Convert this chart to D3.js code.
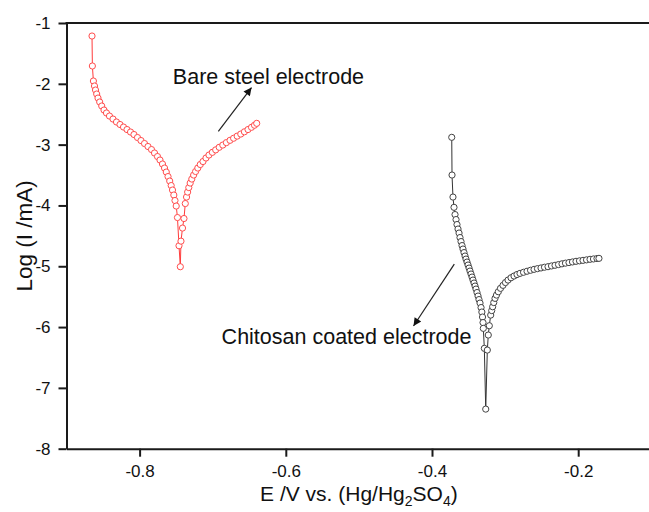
<!DOCTYPE html>
<html><head><meta charset="utf-8">
<script src="https://cdn.jsdelivr.net/npm/d3@7"></script>
<style>body{margin:0;background:#fff}svg{display:block}</style>
</head><body><svg id="c" width="649" height="512"></svg>
<script>
// ---- data ----
const bareE = [-0.8651,-0.8646,-0.8632,-0.8617,-0.8603,-0.8587,-0.8569,-0.8546,-0.8518,-0.8487,-0.8453,-0.8412,-0.8364,-0.8316,-0.8268,-0.8220,-0.8172,-0.8124,-0.8077,-0.8029,-0.7981,-0.7933,-0.7885,-0.7837,-0.7796,-0.7755,-0.7721,-0.7687,-0.7659,-0.7635,-0.7611,-0.7588,-0.7568,-0.7550,-0.7532,-0.7516,-0.7499,-0.7482,-0.7461,-0.7443,
  -0.7434,-0.7413,-0.7393,-0.7375,-0.7358,-0.7343,-0.7327,-0.7308,-0.7286,-0.7261,-0.7234,-0.7204,-0.7170,-0.7133,-0.7092,-0.7051,-0.7005,-0.6959,-0.6911,-0.6862,-0.6813,-0.6763,-0.6714,-0.6665,-0.6616,-0.6566,-0.6517,-0.6469,-0.6428,-0.6398];
const bareLog = [-1.214,-1.707,-1.954,-2.036,-2.102,-2.168,-2.234,-2.299,-2.365,-2.431,-2.480,-2.530,-2.579,-2.628,-2.669,-2.711,-2.752,-2.793,-2.834,-2.883,-2.933,-2.982,-3.031,-3.081,-3.138,-3.196,-3.253,-3.319,-3.385,-3.451,-3.525,-3.599,-3.673,-3.747,-3.829,-3.919,-4.010,-4.199,-4.663,-5.008,
  -4.587,-4.372,-4.215,-3.969,-3.862,-3.780,-3.706,-3.632,-3.566,-3.500,-3.442,-3.385,-3.327,-3.278,-3.220,-3.171,-3.127,-3.086,-3.044,-3.007,-2.967,-2.929,-2.895,-2.860,-2.826,-2.789,-2.752,-2.715,-2.681,-2.650];
const chitosanE = [-0.3730,-0.3726,-0.3713,-0.3699,-0.3685,-0.3671,-0.3658,-0.3644,-0.3630,-0.3617,-0.3603,-0.3589,-0.3576,-0.3562,-0.3548,-0.3535,-0.3521,-0.3507,-0.3493,-0.3480,-0.3466,-0.3452,-0.3439,-0.3425,-0.3411,-0.3398,-0.3384,-0.3370,-0.3357,-0.3343,-0.3329,-0.3318,-0.3309,-0.3302,-0.3298,-0.3284,-0.3265,
  -0.3243,-0.3230,-0.3216,-0.3197,-0.3183,-0.3170,-0.3155,-0.3138,-0.3118,-0.3093,-0.3063,-0.3029,-0.2995,-0.2960,-0.2919,-0.2878,-0.2837,-0.2796,-0.2748,-0.2700,-0.2652,-0.2604,-0.2557,-0.2509,-0.2461,-0.2413,-0.2365,-0.2317,-0.2269,-0.2222,-0.2174,-0.2126,-0.2078,-0.2030,-0.1982,-0.1934,-0.1886,-0.1838,-0.1791,-0.1743,-0.1716];
const chitosanLog = [-2.880,-3.500,-3.862,-4.031,-4.150,-4.232,-4.314,-4.388,-4.454,-4.528,-4.594,-4.660,-4.717,-4.775,-4.832,-4.882,-4.931,-4.980,-5.030,-5.079,-5.128,-5.178,-5.227,-5.276,-5.326,-5.375,-5.432,-5.490,-5.548,-5.605,-5.679,-5.753,-5.835,-5.926,-6.021,-6.350,-7.349,
  -6.378,-6.131,-5.978,-5.803,-5.729,-5.666,-5.597,-5.528,-5.474,-5.419,-5.363,-5.314,-5.268,-5.227,-5.189,-5.161,-5.136,-5.117,-5.099,-5.082,-5.066,-5.051,-5.039,-5.028,-5.016,-5.007,-4.995,-4.984,-4.972,-4.960,-4.949,-4.939,-4.929,-4.919,-4.911,-4.903,-4.895,-4.886,-4.880,-4.873,-4.870];
const xTicks = [-0.8, -0.6, -0.4, -0.2];
const yTicks = [-1, -2, -3, -4, -5, -6, -7, -8];
const labels = ["Bare steel electrode", "Chitosan coated electrode"];
const labelE = [-0.7545, -0.6878];
const labelLog = [-2.003, -6.271];
const arrowFromE = [-0.6923, -0.3695], arrowFromLog = [-2.781, -4.964];
const arrowToE = [-0.6469, -0.4253], arrowToLog = [-2.061, -5.983];

// ---- chart ----
const svg = d3.select("#c");
const x = d3.scaleLinear().domain([-0.9, -0.1]).range([66.5, 651.3]);
const y = d3.scaleLinear().domain([-8, -1]).range([448.7, 23]);
const font = "'Liberation Sans', Arial, sans-serif";

const xAxis = svg.append("g").attr("transform", `translate(0,${y(-8)})`)
  .call(d3.axisBottom(x).tickValues(xTicks).tickSize(8).tickSizeOuter(0).tickPadding(8).tickFormat(d => String(d)));
const yAxis = svg.append("g").attr("transform", `translate(${x(-0.9)},0)`)
  .call(d3.axisLeft(y).tickValues(yTicks).tickSize(8).tickSizeOuter(0).tickPadding(8).tickFormat(d => String(d)));
[xAxis, yAxis].forEach(g => {
  g.select(".domain").attr("stroke", "#1a1a1a").attr("stroke-width", 2);
  g.selectAll(".tick line").attr("stroke", "#1a1a1a").attr("stroke-width", 2);
  g.selectAll(".tick text").attr("fill", "#111").style("font-family", font).style("font-size", "17px");
});
svg.append("line").attr("x1", x(-0.9) - 1).attr("x2", x(-0.1)).attr("y1", y(-1)).attr("y2", y(-1))
  .attr("stroke", "#1a1a1a").attr("stroke-width", 2);

// axis titles
svg.append("text").attr("transform", `translate(31.5,${(y(-1) + y(-8)) / 2}) rotate(-90)`)
  .attr("text-anchor", "middle").style("font-family", font).style("font-size", "22.5px").attr("fill", "#111")
  .text("Log (I /mA)");
const xt = svg.append("text").attr("x", (x(-0.9) + x(-0.1)) / 2).attr("y", 501)
  .attr("text-anchor", "middle").style("font-family", font).style("font-size", "21px").attr("fill", "#111");
xt.append("tspan").text("E /V vs. (Hg/Hg");
xt.append("tspan").attr("dy", 5).style("font-size", "14px").text("2");
xt.append("tspan").attr("dy", -5).text("SO");
xt.append("tspan").attr("dy", 5).style("font-size", "14px").text("4");
xt.append("tspan").attr("dy", -5).text(")");

// series
const series = [
  {e: bareE, l: bareLog, line: "#ff3b3b", mark: "#ff4d4d"},
  {e: chitosanE, l: chitosanLog, line: "#333", mark: "#444"}
];
const lineGen = d3.line().x(d => x(d[0])).y(d => y(d[1]));
series.forEach(s => {
  const pts = s.e.map((v, i) => [v, s.l[i]]);
  svg.append("path").datum(pts).attr("d", lineGen).attr("fill", "none")
    .attr("stroke", s.line).attr("stroke-width", 1);
  svg.append("g").selectAll("circle").data(pts).join("circle")
    .attr("cx", d => x(d[0])).attr("cy", d => y(d[1])).attr("r", 3.1)
    .attr("fill", "#fff").attr("stroke", s.mark).attr("stroke-width", 1);
});

// annotations
svg.append("defs").append("marker").attr("id", "ah").attr("viewBox", "0 0 10 10")
  .attr("refX", 10).attr("refY", 5).attr("markerWidth", 11).attr("markerHeight", 8)
  .attr("markerUnits", "userSpaceOnUse").attr("orient", "auto")
  .append("path").attr("d", "M0,0 L10,5 L0,10 Z").attr("fill", "#111");
arrowFromE.forEach((e, i) => {
  svg.append("line").attr("x1", x(e)).attr("y1", y(arrowFromLog[i]))
    .attr("x2", x(arrowToE[i])).attr("y2", y(arrowToLog[i]))
    .attr("stroke", "#222").attr("stroke-width", 1.2).attr("marker-end", "url(#ah)");
});
labels.forEach((t, i) => {
  svg.append("text").attr("x", x(labelE[i])).attr("y", y(labelLog[i]))
    .style("font-family", font).style("font-size", "21.5px").attr("fill", "#111").text(t);
});
</script>
</body></html>
